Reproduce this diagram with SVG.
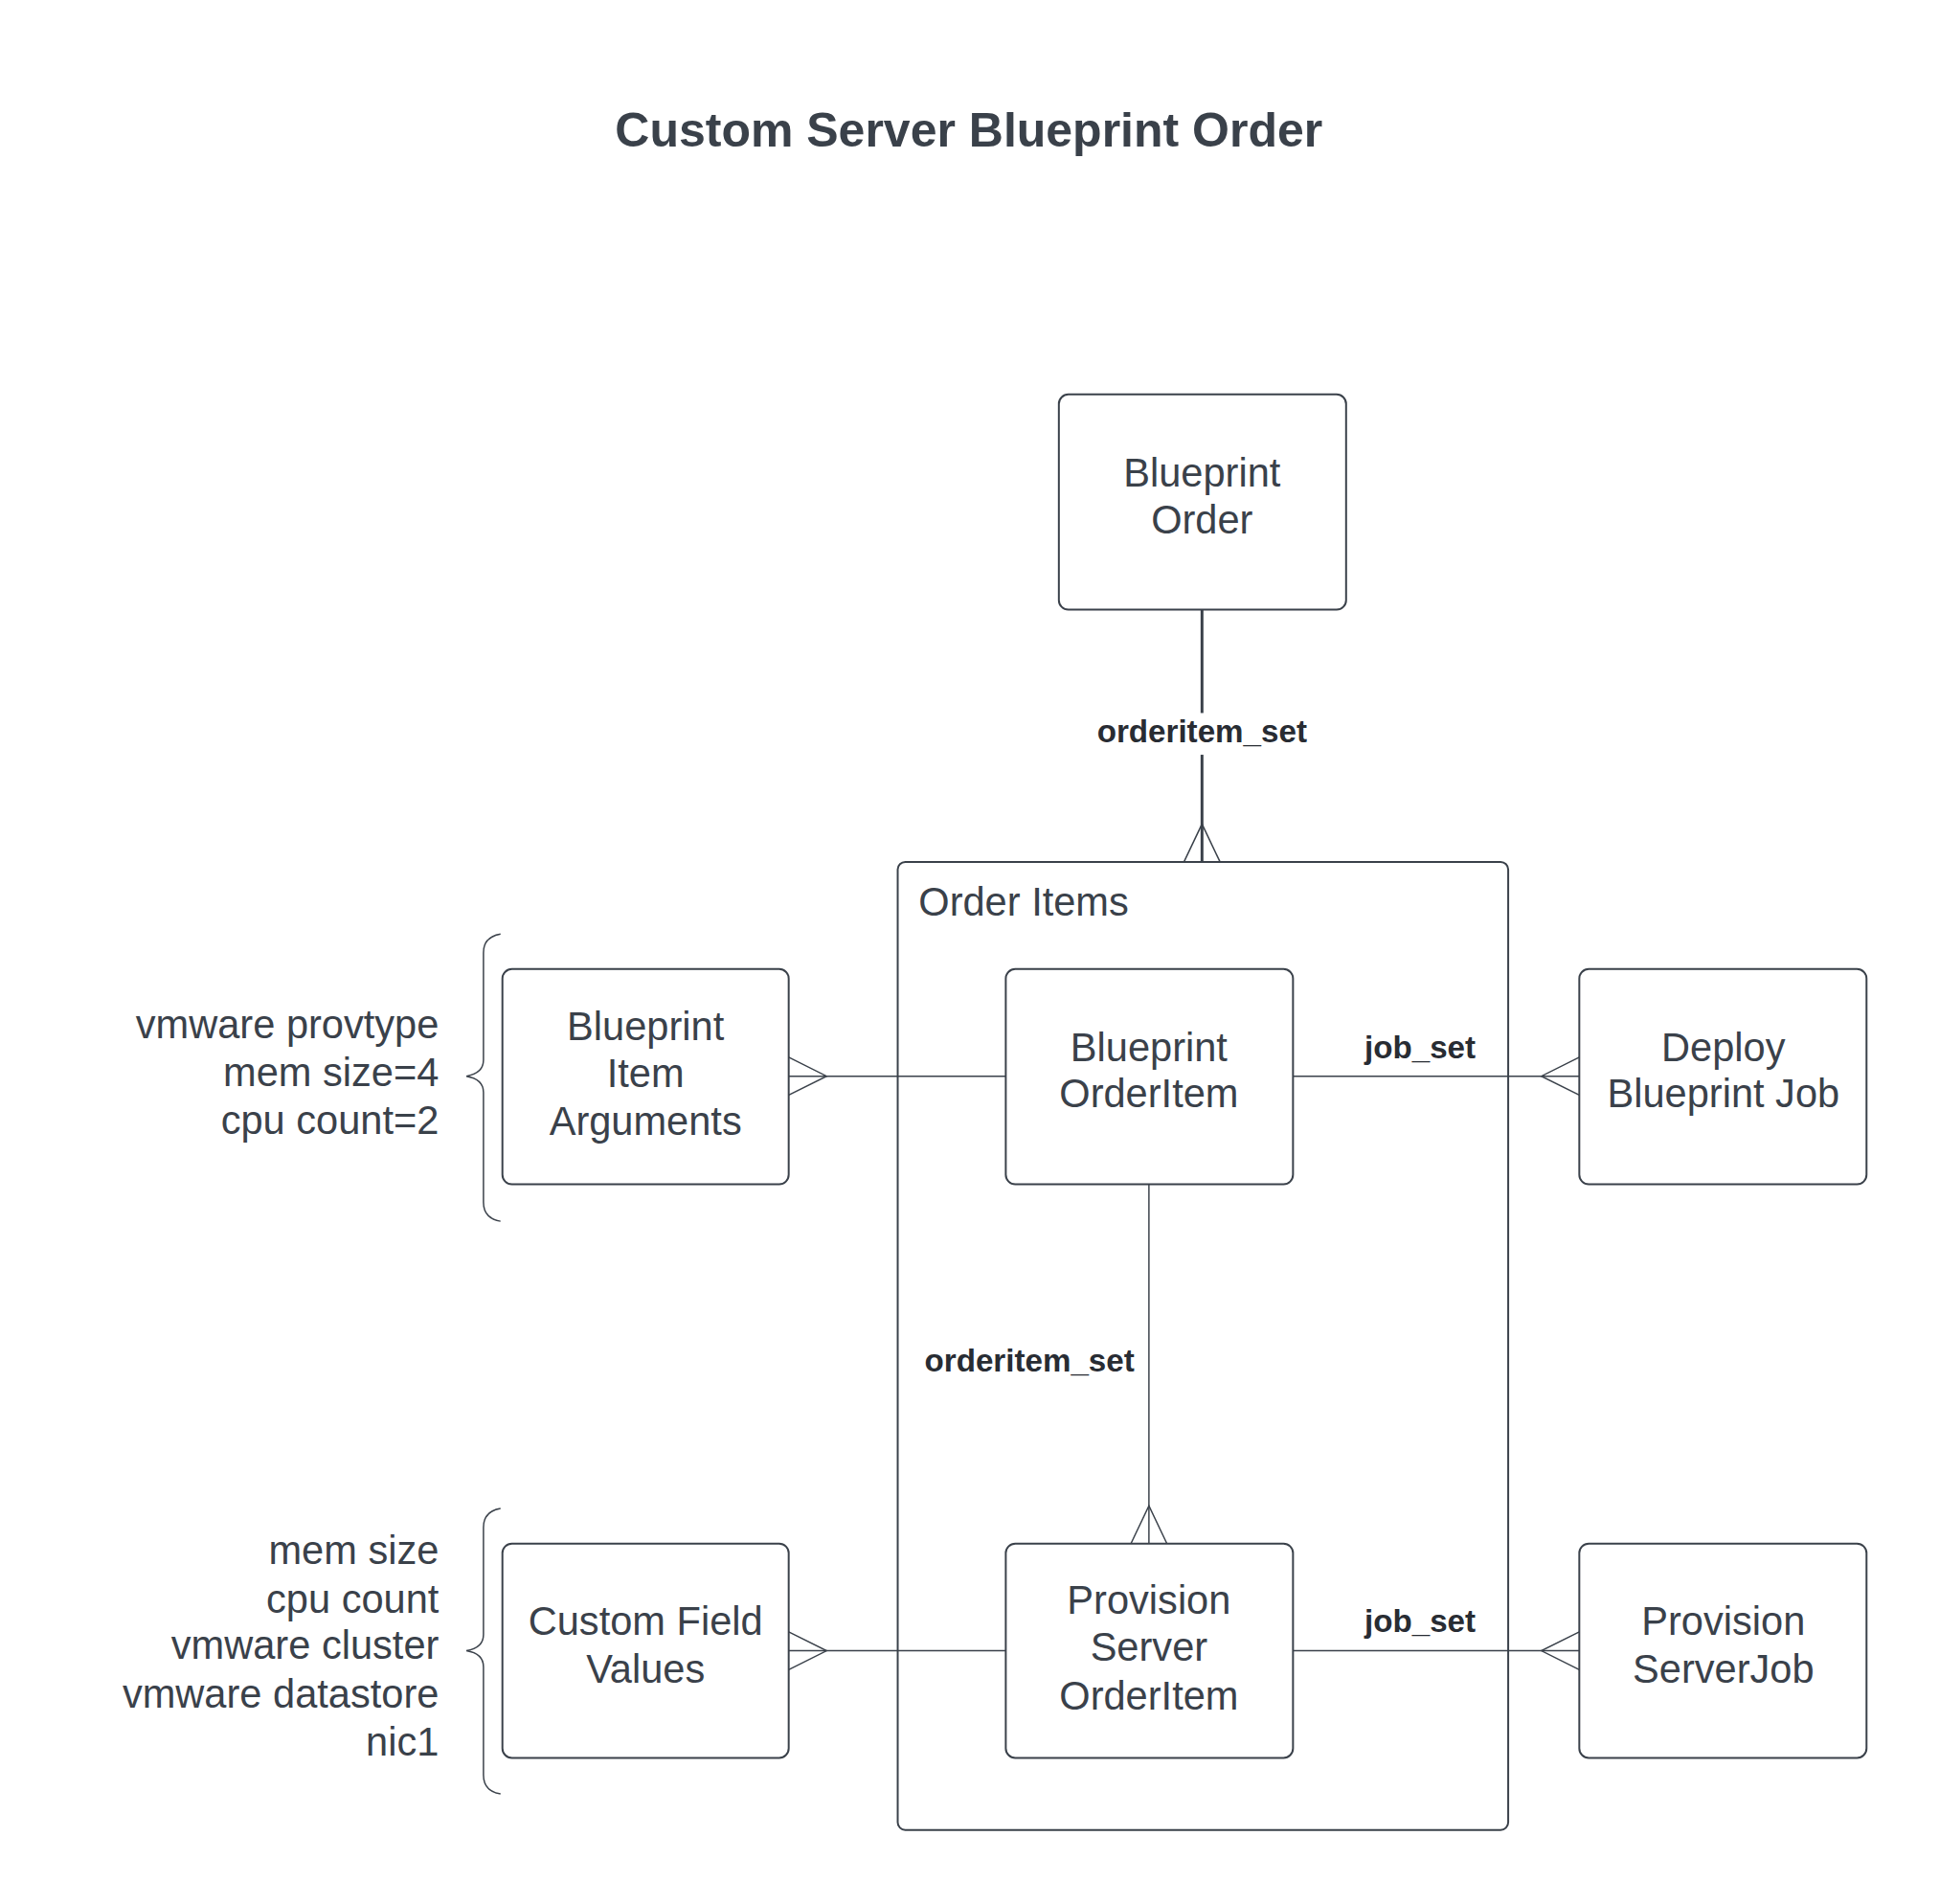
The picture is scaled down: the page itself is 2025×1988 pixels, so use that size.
<svg xmlns="http://www.w3.org/2000/svg" width="2025" height="1988" viewBox="0 0 2025 1988">
<style>
.box{fill:#ffffff;stroke:#3a414a;stroke-width:2}
.t{font-family:"Liberation Sans",Arial,sans-serif;font-size:42px;fill:#3a414a}
.c{text-anchor:middle}
.r{text-anchor:end}
.lbl{font-family:"Liberation Sans",Arial,sans-serif;font-size:33.5px;font-weight:bold;fill:#282c33;text-anchor:middle}
.ln{fill:none;stroke:#3a414a;stroke-width:1.5}
.thick{fill:none;stroke:#3a414a;stroke-width:3}
.brace{fill:none;stroke:#3a414a;stroke-width:1.5}
</style>
<rect width="2025" height="1988" fill="#ffffff"/>
<g transform="scale(0.99)">
<text x="1022" y="155" font-family="'Liberation Sans',Arial,sans-serif" font-size="50.5" font-weight="bold" fill="#3a414a" text-anchor="middle">Custom Server Blueprint Order</text>

<g id="order-items">
<rect class="box" x="947" y="909" width="644" height="1021" rx="8"/>
<text class="t" x="969" y="966">Order Items</text>
</g>

<g id="connectors">
<line class="thick" x1="1268" y1="643" x2="1268" y2="752"/>
<line class="thick" x1="1268" y1="796" x2="1268" y2="909"/>
<path class="ln" d="M1249,909 L1268,869 L1287,909"/>
<text class="lbl" x="1268" y="783">orderitem_set</text>

<line class="ln" x1="832" y1="1135" x2="1061" y2="1135"/>
<path class="ln" d="M832,1115 L872,1135 L832,1155"/>

<line class="ln" x1="1364" y1="1135" x2="1666" y2="1135"/>
<path class="ln" d="M1666,1115 L1626,1135 L1666,1155"/>
<text class="lbl" x="1498" y="1116">job_set</text>

<line class="ln" x1="1212" y1="1249" x2="1212" y2="1628"/>
<path class="ln" d="M1193,1628 L1212,1588 L1231,1628"/>
<text class="lbl" x="1086" y="1446">orderitem_set</text>

<line class="ln" x1="832" y1="1741" x2="1061" y2="1741"/>
<path class="ln" d="M832,1721 L872,1741 L832,1761"/>

<line class="ln" x1="1364" y1="1741" x2="1666" y2="1741"/>
<path class="ln" d="M1666,1721 L1626,1741 L1666,1761"/>
<text class="lbl" x="1498" y="1721">job_set</text>
</g>

<g id="blueprint-order">
<rect class="box" x="1117" y="416" width="303" height="227" rx="10"/>
<text class="t c" x="1268" y="513">Blueprint</text>
<text class="t c" x="1268" y="563">Order</text>
</g>

<g id="blueprint-orderitem">
<rect class="box" x="1061" y="1022" width="303" height="227" rx="10"/>
<text class="t c" x="1212" y="1119">Blueprint</text>
<text class="t c" x="1212" y="1168">OrderItem</text>
</g>

<g id="blueprint-item-arguments">
<rect class="box" x="530" y="1022" width="302" height="227" rx="10"/>
<text class="t c" x="681" y="1097">Blueprint</text>
<text class="t c" x="681" y="1146">Item</text>
<text class="t c" x="681" y="1197">Arguments</text>
</g>

<g id="deploy-blueprint-job">
<rect class="box" x="1666" y="1022" width="303" height="227" rx="10"/>
<text class="t c" x="1818" y="1119">Deploy</text>
<text class="t c" x="1818" y="1168">Blueprint Job</text>
</g>

<g id="custom-field-values">
<rect class="box" x="530" y="1628" width="302" height="226" rx="10"/>
<text class="t c" x="681" y="1724">Custom Field</text>
<text class="t c" x="681" y="1775">Values</text>
</g>

<g id="provision-server-orderitem">
<rect class="box" x="1061" y="1628" width="303" height="226" rx="10"/>
<text class="t c" x="1212" y="1702">Provision</text>
<text class="t c" x="1212" y="1752">Server</text>
<text class="t c" x="1212" y="1803">OrderItem</text>
</g>

<g id="provision-serverjob">
<rect class="box" x="1666" y="1628" width="303" height="226" rx="10"/>
<text class="t c" x="1818" y="1724">Provision</text>
<text class="t c" x="1818" y="1775">ServerJob</text>
</g>

<g id="args-note">
<path class="brace" d="M528,985 Q510,988 510,1005 L510,1118 Q510,1132 492,1135 Q510,1138 510,1152 L510,1268 Q510,1285 528,1288"/>
<text class="t r" x="463" y="1095">vmware provtype</text>
<text class="t r" x="463" y="1145">mem size=4</text>
<text class="t r" x="463" y="1196">cpu count=2</text>
</g>

<g id="fields-note">
<path class="brace" d="M528,1591 Q510,1594 510,1611 L510,1724 Q510,1738 492,1741 Q510,1744 510,1758 L510,1872 Q510,1889 528,1892"/>
<text class="t r" x="463" y="1650">mem size</text>
<text class="t r" x="463" y="1701">cpu count</text>
<text class="t r" x="463" y="1750">vmware cluster</text>
<text class="t r" x="463" y="1801">vmware datastore</text>
<text class="t r" x="463" y="1852">nic1</text>
</g>
</g>
</svg>
